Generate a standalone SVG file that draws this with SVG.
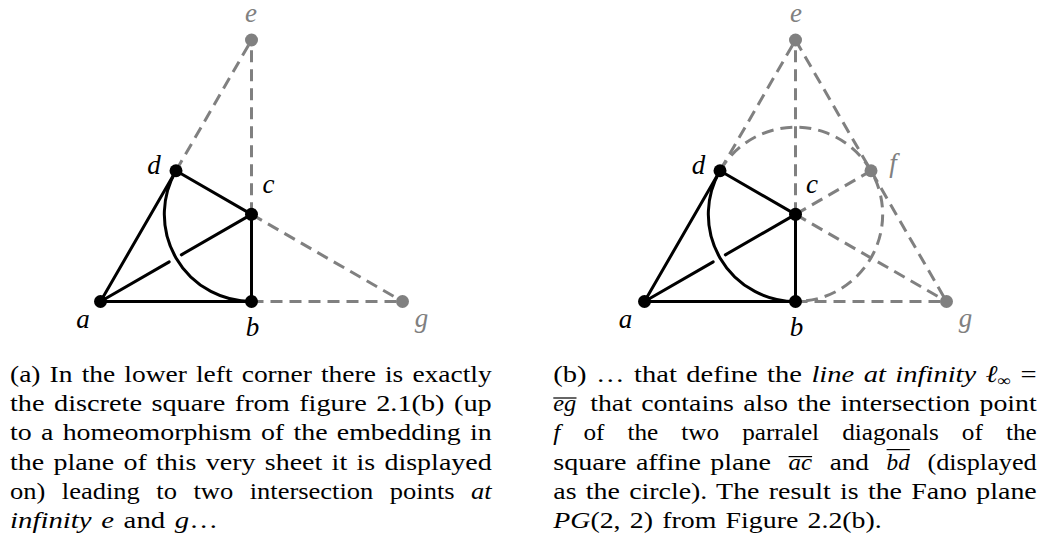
<svg xmlns="http://www.w3.org/2000/svg" width="1044" height="549" viewBox="0 0 1044 549">
<style>
.solid{stroke:#000;stroke-width:3;fill:none;stroke-linecap:round}
.dash{stroke:#808080;stroke-width:3;fill:none;stroke-dasharray:12 7}
.pt{fill:#000}
.ipt{fill:#808080}
.lbl{font-family:"Liberation Serif","Times New Roman",serif;font-style:italic;font-size:27px;text-anchor:middle;fill:#000}
.ilbl{font-family:"Liberation Serif","Times New Roman",serif;font-style:italic;font-size:27px;text-anchor:middle;fill:#808080}
.cap{font-family:"Liberation Serif","Times New Roman",serif;font-size:24px;fill:#000;word-spacing:2px}
.it{font-style:italic}
.bar{stroke:#000;stroke-width:1.2}
</style>
<rect width="1044" height="549" fill="#fff"/>

<!-- Left diagram -->
<g id="connectors-left">
  <line class="dash" x1="176" y1="170.75" x2="251.5" y2="40"/>
  <line class="dash" x1="251.5" y1="214.33" x2="251.5" y2="40"/>
  <line class="dash" x1="251.5" y1="214.33" x2="402.5" y2="301.5"/>
  <line class="dash" x1="251.5" y1="301.5" x2="402.5" y2="301.5"/>
  <line class="solid" x1="100.5" y1="301.5" x2="251.5" y2="301.5"/>
  <line class="solid" x1="100.5" y1="301.5" x2="176" y2="170.75"/>
  <line class="solid" x1="100.5" y1="301.5" x2="169.23" y2="261.83"/>
  <line class="solid" x1="181.35" y1="254.83" x2="251.5" y2="214.33"/>
  <line class="solid" x1="176" y1="170.75" x2="251.5" y2="214.33"/>
  <line class="solid" x1="251.5" y1="214.33" x2="251.5" y2="301.5"/>
  <path class="solid" d="M176 170.75 A87.17 87.17 0 0 0 251.5 301.5"/>
</g>
<g id="node-a-left"><circle class="pt" cx="100.5" cy="301.5" r="6.5"/><text class="lbl" x="83" y="328">a</text></g>
<g id="node-b-left"><circle class="pt" cx="251.5" cy="301.5" r="6.5"/><text class="lbl" x="252.5" y="336">b</text></g>
<g id="node-c-left"><circle class="pt" cx="251.5" cy="214.33" r="6.5"/><text class="lbl" x="268.5" y="193">c</text></g>
<g id="node-d-left"><circle class="pt" cx="176" cy="170.75" r="6.5"/><text class="lbl" x="154" y="174">d</text></g>
<g id="node-e-left"><circle class="ipt" cx="251.5" cy="40" r="6.5"/><text class="ilbl" x="251" y="22">e</text></g>
<g id="node-g-left"><circle class="ipt" cx="402.5" cy="301.5" r="6.5"/><text class="ilbl" x="421.5" y="327">g</text></g>

<!-- Right diagram -->
<g id="connectors-right">
  <line class="dash" x1="720" y1="170.75" x2="795.5" y2="40"/>
  <line class="dash" x1="795.5" y1="214.33" x2="795.5" y2="40"/>
  <line class="dash" x1="795.5" y1="40" x2="946.5" y2="301.5"/>
  <line class="dash" x1="795.5" y1="214.33" x2="871" y2="170.75"/>
  <line class="dash" x1="795.5" y1="214.33" x2="946.5" y2="301.5"/>
  <line class="dash" x1="795.5" y1="301.5" x2="946.5" y2="301.5"/>
  <path class="dash" d="M720 170.75 A87.17 87.17 0 1 1 795.5 301.5"/>
  <line class="solid" x1="644.5" y1="301.5" x2="795.5" y2="301.5"/>
  <line class="solid" x1="644.5" y1="301.5" x2="720" y2="170.75"/>
  <line class="solid" x1="644.5" y1="301.5" x2="713.23" y2="261.83"/>
  <line class="solid" x1="725.35" y1="254.83" x2="795.5" y2="214.33"/>
  <line class="solid" x1="720" y1="170.75" x2="795.5" y2="214.33"/>
  <line class="solid" x1="795.5" y1="214.33" x2="795.5" y2="301.5"/>
  <path class="solid" d="M720 170.75 A87.17 87.17 0 0 0 795.5 301.5"/>
</g>
<g id="node-a-right"><circle class="pt" cx="644.5" cy="301.5" r="6.5"/><text class="lbl" x="625.5" y="328">a</text></g>
<g id="node-b-right"><circle class="pt" cx="795.5" cy="301.5" r="6.5"/><text class="lbl" x="796.5" y="336">b</text></g>
<g id="node-c-right"><circle class="pt" cx="795.5" cy="214.33" r="6.5"/><text class="lbl" x="812" y="193">c</text></g>
<g id="node-d-right"><circle class="pt" cx="720" cy="170.75" r="6.5"/><text class="lbl" x="698.5" y="174">d</text></g>
<g id="node-e-right"><circle class="ipt" cx="795.5" cy="40" r="6.5"/><text class="ilbl" x="796" y="22">e</text></g>
<g id="node-f-right"><circle class="ipt" cx="871" cy="170.75" r="6.5"/><text class="ilbl" x="893" y="172">f</text></g>
<g id="node-g-right"><circle class="ipt" cx="946.5" cy="301.5" r="6.5"/><text class="ilbl" x="965.5" y="327">g</text></g>

<!-- Captions -->
<g id="caption-a">
  <text class="cap" x="10" y="381.7" textLength="481.7" lengthAdjust="spacingAndGlyphs">(a) In the lower left corner there is exactly</text>
  <text class="cap" x="10" y="411" textLength="481.7" lengthAdjust="spacingAndGlyphs">the discrete square from figure 2.1(b) (up</text>
  <text class="cap" x="10" y="440.3" textLength="481.7" lengthAdjust="spacingAndGlyphs">to a homeomorphism of the embedding in</text>
  <text class="cap" x="10" y="469.6" textLength="481.7" lengthAdjust="spacingAndGlyphs">the plane of this very sheet it is displayed</text>
  <text class="cap" x="10" y="498.9" textLength="481.7" lengthAdjust="spacingAndGlyphs" style="word-spacing:9px">on) leading to two intersection points <tspan class="it">at</tspan></text>
  <text class="cap" x="10" y="528.2" textLength="208" lengthAdjust="spacingAndGlyphs"><tspan class="it">infinity e</tspan> and <tspan class="it">g</tspan>…</text>
</g>
<g id="caption-b">
  <text class="cap" x="553.3" y="381.7" textLength="483.4" lengthAdjust="spacingAndGlyphs">(b) … that define the <tspan class="it">line at infinity ℓ</tspan><tspan font-size="16" dy="4">∞</tspan><tspan dy="-4"> =</tspan></text>
  <text class="cap it" x="553.3" y="411" textLength="23" lengthAdjust="spacingAndGlyphs">eg</text>
  <line class="bar" x1="553.3" y1="398" x2="576.5" y2="398"/>
  <text class="cap" x="590.2" y="411" textLength="446.5" lengthAdjust="spacingAndGlyphs">that contains also the intersection point</text>
  <text class="cap" x="553.3" y="440.3" textLength="483.4" lengthAdjust="spacingAndGlyphs" style="word-spacing:16px"><tspan class="it">f</tspan> of the two parralel diagonals of the</text>
  <text class="cap" x="553.3" y="469.6" textLength="217.7" lengthAdjust="spacingAndGlyphs">square affine plane</text>
  <text class="cap it" x="788.6" y="469.6" textLength="23.5" lengthAdjust="spacingAndGlyphs">ac</text>
  <line class="bar" x1="788.6" y1="456.6" x2="812.1" y2="456.6"/>
  <text class="cap" x="829.7" y="469.6" textLength="39.3" lengthAdjust="spacingAndGlyphs">and</text>
  <text class="cap it" x="886.6" y="469.6" textLength="23.2" lengthAdjust="spacingAndGlyphs">bd</text>
  <line class="bar" x1="886.6" y1="449.6" x2="909.8" y2="449.6"/>
  <text class="cap" x="927.4" y="469.6" textLength="109.3" lengthAdjust="spacingAndGlyphs">(displayed</text>
  <text class="cap" x="553.3" y="498.9" textLength="483.4" lengthAdjust="spacingAndGlyphs">as the circle). The result is the Fano plane</text>
  <text class="cap" x="553.3" y="528.2" textLength="328.4" lengthAdjust="spacingAndGlyphs"><tspan class="it">PG</tspan>(2, 2) from Figure 2.2(b).</text>
</g>
</svg>
